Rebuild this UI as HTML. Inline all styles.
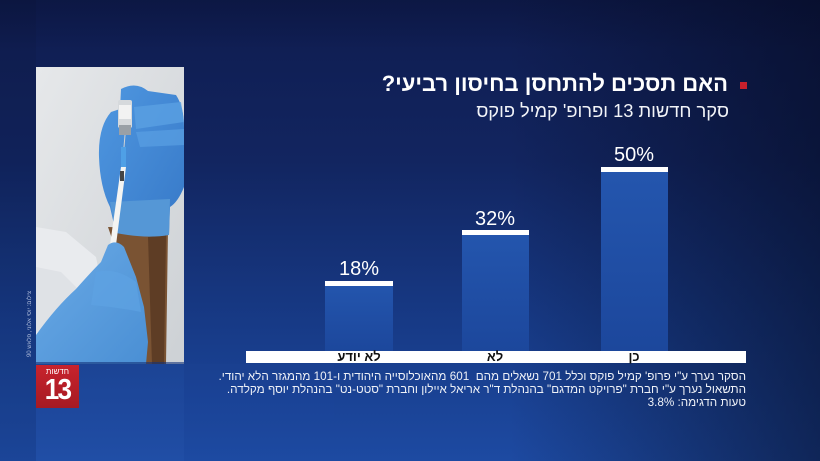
<!DOCTYPE html>
<html><head><meta charset="utf-8">
<style>
html,body{margin:0;padding:0}
body{width:820px;height:461px;overflow:hidden;position:relative;font-family:"Liberation Sans","DejaVu Sans",sans-serif;
background:
linear-gradient(to right, rgba(0,0,0,0) 62%, rgba(4,8,28,0.55) 100%),
linear-gradient(to bottom, #0f1c4f 0%, #122560 35%, #173a86 70%, #1d4aa2 100%);}
.abs{position:absolute}
.t{position:absolute;direction:rtl;white-space:nowrap;color:#fff}
.bar{position:absolute;background:linear-gradient(to bottom,#2456ae,#1c479c);}
.cap{position:absolute;left:0;right:0;top:0;height:5px;background:#fff}
.pct{position:absolute;color:#fff;font-size:20px;text-align:center;width:100px;line-height:20px}
.lbl{position:absolute;color:#111;font-weight:bold;font-size:13px;text-align:center;width:100px;line-height:12px;direction:rtl}
</style></head><body>
<!-- background tiles -->
<div class="abs" style="left:0;top:0;width:36px;height:461px;background:rgba(0,0,0,0.06)"></div>
<div class="abs" style="left:36px;top:364px;width:148px;height:97px;background:rgba(60,110,200,0.12)"></div>
<div class="abs" style="left:184px;top:364px;width:150px;height:97px;background:rgba(40,80,170,0.08)"></div>
<div class="abs" style="left:0;top:0;width:820px;height:50px;background:linear-gradient(to bottom,rgba(5,10,35,0.25),rgba(5,10,35,0))"></div>

<!-- photo -->
<svg class="abs" style="left:36px;top:67px" width="148" height="297" viewBox="0 0 148 297">
<defs>
<linearGradient id="pbg" x1="0" y1="0" x2="1" y2="1"><stop offset="0" stop-color="#e6e8ea"/><stop offset="1" stop-color="#cdd1d5"/></linearGradient>
<linearGradient id="gl" x1="0" y1="0" x2="1" y2="1"><stop offset="0" stop-color="#4f97e0"/><stop offset="1" stop-color="#3779c8"/></linearGradient>
<linearGradient id="gl2" x1="0" y1="0" x2="1" y2="1"><stop offset="0" stop-color="#6aaae6"/><stop offset="1" stop-color="#4a8fd4"/></linearGradient>
</defs>
<rect width="148" height="297" fill="url(#pbg)"/>
<path d="M0 160 L30 165 L60 190 L70 240 L40 297 L0 297 Z" fill="#e9ebee"/>
<path d="M0 200 L25 205 L45 225 L20 260 L0 265 Z" fill="#dfe2e6"/>
<path d="M72 160 L132 162 L130 297 L104 297 L96 230 Z" fill="#7a5333"/>
<path d="M112 170 L130 168 L128 297 L116 297 Z" fill="#5e3d25"/>
<path d="M85 22 Q100 14 112 24 L140 28 Q148 40 148 60 L148 120 Q142 135 134 140 L133 168 L80 166 L74 140 Q64 120 63 90 Q62 60 75 45 L84 42 Z" fill="url(#gl)"/>
<path d="M74 135 L134 132 L133 168 Q110 172 80 166 Z" fill="#5597d6"/>
<path d="M98 40 L145 35 L148 55 L100 62 Z" fill="#5aa0e2" opacity="0.8"/>
<path d="M100 65 L148 62 L148 78 L104 80 Z" fill="#5aa0e2" opacity="0.7"/>
<rect x="82" y="33" width="14" height="28" rx="2" fill="#d6d9dc"/>
<rect x="83" y="38" width="12" height="14" fill="#f2f2f2"/>
<rect x="83" y="58" width="12" height="10" fill="#9aa0a6"/>
<line x1="89" y1="68" x2="88" y2="80" stroke="#cfd3d6" stroke-width="1"/>
<rect x="85" y="80" width="5" height="20" fill="#4fa0e6"/>
<path d="M85 100 L90 100 L80 178 L74 178 Z" fill="#f4f4f2"/>
<rect x="84" y="104" width="4" height="10" fill="#444"/>
<path d="M72 178 Q80 172 88 180 L100 210 L108 240 L112 275 L110 297 L0 297 L0 268 Q20 240 40 222 Q55 205 65 195 Z" fill="url(#gl2)"/>
<path d="M60 205 Q80 200 100 215 L105 245 Q80 240 55 238 Z" fill="#5ea2e2" opacity="0.7"/>
</svg>
<div class="abs" style="left:36px;top:362px;width:148px;height:2px;background:rgba(20,50,120,0.6)"></div>

<!-- photo credit -->
<div class="abs" style="left:30px;top:325px;width:0;height:0">
<div style="position:absolute;left:-40px;top:-4px;width:80px;text-align:center;transform:rotate(-90deg);font-size:6px;color:#aab8d8;direction:rtl;white-space:nowrap">צילום: יוסי אלוני, פלאש 90</div>
</div>

<!-- logo -->
<div class="abs" style="left:36px;top:365px;width:43px;height:43px;background:linear-gradient(to bottom,#c8232d,#a51a23)">
<div style="position:absolute;left:0;width:43px;top:2px;text-align:center;color:#fff;font-size:8px;line-height:9px;direction:rtl">חדשות</div>
<div style="position:absolute;left:0;width:43px;top:10px;text-align:center;color:#fff;font-size:29px;font-weight:bold;line-height:30px;letter-spacing:-2px;transform:scaleX(0.9)">13</div>
</div>

<!-- title -->
<div class="abs" style="left:740px;top:82px;width:7px;height:7px;background:#c8202c"></div>
<div class="t" style="right:92px;top:71px;font-size:22px;font-weight:bold;line-height:26px">האם תסכים להתחסן בחיסון רביעי?</div>
<div class="t" style="right:91px;top:100px;font-size:18.3px;line-height:21px;color:#f2f4f8">סקר חדשות 13 ופרופ' קמיל פוקס</div>

<!-- bars -->
<div class="bar" style="left:325px;top:281px;width:68px;height:70px"><div class="cap"></div></div>
<div class="bar" style="left:462px;top:230px;width:67px;height:121px"><div class="cap"></div></div>
<div class="bar" style="left:601px;top:167px;width:67px;height:184px"><div class="cap"></div></div>
<div class="pct" style="left:309px;top:259px">18%</div>
<div class="pct" style="left:445px;top:209px">32%</div>
<div class="pct" style="left:584px;top:145px">50%</div>

<!-- axis band -->
<div class="abs" style="left:246px;top:351px;width:500px;height:12px;background:#fff"></div>
<div class="lbl" style="left:309px;top:351px">לא יודע</div>
<div class="lbl" style="left:445px;top:351px">לא</div>
<div class="lbl" style="left:584px;top:351px">כן</div>

<!-- footnote -->
<div class="t" style="right:74px;top:370px;font-size:11.7px;line-height:13px;text-align:right;color:#eef1f7">
<div>הסקר נערך ע"י פרופ' קמיל פוקס וכלל 701 נשאלים מהם&nbsp; 601 מהאוכלוסייה היהודית ו-101 מהמגזר הלא יהודי.</div>
<div>התשאול נערך ע"י חברת "פרויקט המדגם" בהנהלת ד"ר אריאל איילון וחברת "סטט-נט" בהנהלת יוסף מקלדה.</div>
<div>טעות הדגימה: 3.8%</div>
</div>
</body></html>
